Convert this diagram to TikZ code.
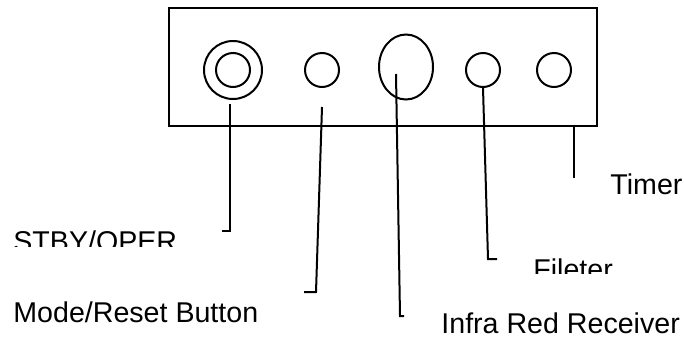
\documentclass[tikz,border=0pt]{standalone}
\usepackage{fontspec}
\setmainfont{Liberation Sans}
\usetikzlibrary{shapes.geometric}

\begin{document}
\begin{tikzpicture}[x=0.5pt,y=-0.5pt,
  knob/.style={draw,circle,line width=1pt,inner sep=0pt,minimum size=17pt},
  lbl/.style={anchor=base west,inner sep=0pt,font=\fontsize{14.3}{17}\selectfont},
  lead/.style={line width=1pt}]
\useasboundingbox (0,0) rectangle (684,338);
\node[draw,line width=1pt,inner sep=0pt,minimum width=214pt,minimum height=59pt] (panel) at (383,67) {};
\node[knob,minimum size=29pt] (stby) at (233,70) {};
\node[knob] (stbyin) at (233,70) {};
\node[knob] (mode) at (322,70) {};
\node[draw,ellipse,line width=1pt,inner sep=0pt,minimum width=27pt,minimum height=32.5pt] (ir) at (406,67) {};
\node[knob] (filter) at (483,70) {};
\node[knob] (timer) at (554,70) {};
% labels, two of them cut off at the bottom
\begin{scope}
\clip (0,215) rectangle (300,246);
\node[lbl] (stbytxt) at (13,251) {STBY/OPER};
\end{scope}
\node[lbl] (modetxt) at (13,322) {Mode/Reset Button};
\node[lbl] (irtxt) at (441,333) {Infra Red Receiver};
\node[lbl] (timertxt) at (610,194) {Timer};
\begin{scope}
\clip (520,245) rectangle (640,273);
\node[lbl] (filtertxt) at (533,279) {Fileter};
\end{scope}
\coordinate (stbyend) at (222,231);
\coordinate (modebend) at (316,292);
\coordinate (modeend) at (304,292);
\coordinate (irbend) at (400,316);
\coordinate (irend) at (404,316);
\coordinate (filterbend) at (488,259);
\coordinate (filterend) at (497,259);
\coordinate (timerend) at (574,178);
\draw[lead] ([xshift=-1.5pt,yshift=-2pt]stby.south) |- (stbyend);
\draw[lead] ([yshift=-9.5pt]mode.south) -- (modebend) -- (modeend);
\draw[lead] ([xshift=-5pt,yshift=-3.5pt]ir.center) -- (irbend) -- (irend);
\draw[lead] (filter.south) -- (filterbend) -- (filterend);
\draw[lead] ([xshift=95.5pt]panel.south) -- (timerend);
\end{tikzpicture}
\end{document}
